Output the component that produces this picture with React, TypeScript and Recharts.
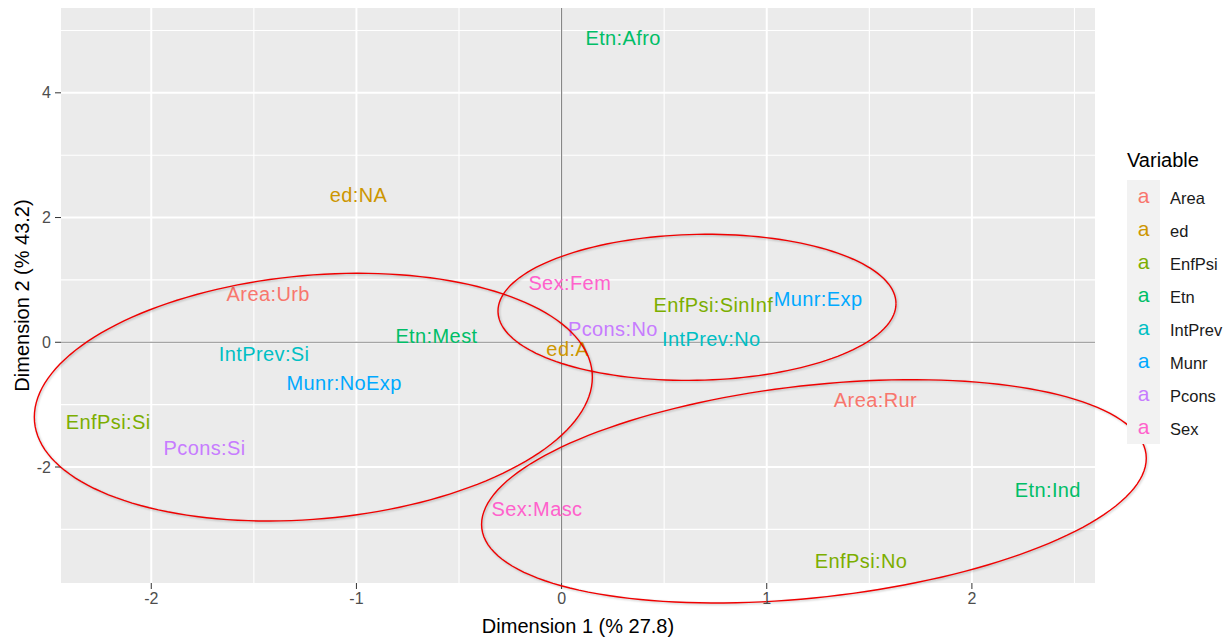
import React from 'react';
import { ScatterChart, Scatter, XAxis, YAxis, ReferenceLine, ReferenceArea, Legend } from 'recharts';

const FONT = '"Liberation Sans", Arial, sans-serif';

// variables and their ggplot hue colours
const variables = ['Area', 'ed', 'EnfPsi', 'Etn', 'IntPrev', 'Munr', 'Pcons', 'Sex'];
const variableColors = ['#F8766D', '#CD9600', '#7CAE00', '#00BE67', '#00BFC4', '#00A9FF', '#C77CFF', '#FF61CC'];

// category coordinates (Dimension 1, Dimension 2)
const categoryLabels = [
  'Area:Urb', 'Area:Rur', 'ed:NA', 'ed:A', 'EnfPsi:Si', 'EnfPsi:No', 'EnfPsi:SinInf',
  'Etn:Afro', 'Etn:Mest', 'Etn:Ind', 'IntPrev:Si', 'IntPrev:No', 'Munr:NoExp', 'Munr:Exp',
  'Pcons:Si', 'Pcons:No', 'Sex:Fem', 'Sex:Masc',
];
const dim1 = [-1.43, 1.53, -0.99, 0.03, -2.21, 1.46, 0.74, 0.30, -0.61, 2.37, -1.45, 0.73, -1.06, 1.25, -1.74, 0.25, 0.04, -0.12];
const dim2 = [0.77, -0.93, 2.36, -0.11, -1.28, -3.50, 0.59, 4.88, 0.10, -2.37, -0.19, 0.05, -0.66, 0.69, -1.70, 0.21, 0.95, -2.67];

// hand-drawn ellipses: centre, half-extents and tilt (in data units)
const ellipseCx = [-1.21, 0.66, 1.23];
const ellipseCy = [-0.88, 0.56, -2.39];
const ellipseRx = [1.36, 0.97, 1.62];
const ellipseRy = [1.96, 1.17, 1.71];
const ellipseSkew = [0.32, 0.06, 0.53];

const xTicks = [-2, -1, 0, 1, 2];
const xMinor = [-1.5, -0.5, 0.5, 1.5, 2.5];
const yTicks = [-2, 0, 2, 4];
const yMinor = [-3, -1, 1, 3, 5];
const X_DOMAIN: [number, number] = [-2.44, 2.6];
const Y_DOMAIN: [number, number] = [-3.86, 5.36];

const points = categoryLabels.map((label, i) => ({
  label,
  variable: label.split(':')[0],
  x: dim1[i],
  y: dim2[i],
}));

const ellipseOutline = (i: number) => {
  const pts = [];
  const steps = 160;
  for (let k = 0; k <= steps; k++) {
    const t = (k / steps) * Math.PI * 2;
    pts.push({
      x: ellipseCx[i] + ellipseRx[i] * Math.cos(t),
      y: ellipseCy[i] + ellipseRy[i] * Math.sin(t) + ellipseSkew[i] * Math.cos(t),
    });
  }
  return pts;
};

const makeLabelShape = (color: string) => (props: any) => (
  <text
    x={props.cx}
    y={props.cy}
    textAnchor="middle"
    dominantBaseline="central"
    fill={color}
    fontSize={20}
    fontFamily={FONT}
    letterSpacing={0.4}
  >
    {props.payload.label}
  </text>
);

const LegendContent = (props: any) => {
  const payload = props.payload || [];
  const colorOf = (name: string) => {
    const e = payload.find((p: any) => p.value === name);
    return e ? e.color : variableColors[variables.indexOf(name)];
  };
  return (
    <div style={{ fontFamily: FONT }}>
      <div style={{ fontSize: 20, color: '#000', lineHeight: '24px', marginBottom: 8 }}>Variable</div>
      {variables.map((v) => (
        <div key={v} style={{ display: 'flex', alignItems: 'center', height: 33 }}>
          <div
            style={{
              width: 33,
              height: 33,
              background: '#F2F2F2',
              color: colorOf(v),
              fontSize: 21,
              lineHeight: '32px',
              textAlign: 'center',
            }}
          >
            a
          </div>
          <div style={{ marginLeft: 10, fontSize: 16.5, color: '#1A1A1A', paddingTop: 3 }}>{v}</div>
        </div>
      ))}
    </div>
  );
};

export default function App() {
  return (
    <div style={{ position: 'absolute', left: 0, top: 0 }}>
      <style>{`.ellipse-outline, .ellipse-outline * { clip-path: none !important; }
.ellipse-outline path { filter: drop-shadow(1px 1.5px 1px rgba(0,0,0,0.25)); }`}</style>
      <ScatterChart width={1231} height={639} margin={{ top: 8, right: 136, bottom: 0, left: 0 }}>
        <XAxis
          type="number"
          dataKey="x"
          domain={X_DOMAIN}
          allowDataOverflow
          ticks={xTicks}
          height={56}
          axisLine={false}
          tickSize={6}
          tickMargin={4}
          tickLine={{ stroke: '#333333' }}
          tick={{ fill: '#4D4D4D', fontSize: 16, fontFamily: FONT }}
          label={{
            content: (p: any) => {
              const vb = p.viewBox;
              return (
                <text
                  x={vb.x + vb.width / 2}
                  y={vb.y + 43}
                  textAnchor="middle"
                  dominantBaseline="central"
                  fontSize={20}
                  fontFamily={FONT}
                  fill="#000"
                >
                  Dimension 1 (% 27.8)
                </text>
              );
            },
          }}
        />
        <YAxis
          type="number"
          dataKey="y"
          domain={Y_DOMAIN}
          allowDataOverflow
          ticks={yTicks}
          width={61}
          axisLine={false}
          tickSize={6}
          tickMargin={4}
          tickLine={{ stroke: '#333333' }}
          tick={{ fill: '#4D4D4D', fontSize: 16, fontFamily: FONT }}
          label={{
            content: (p: any) => {
              const vb = p.viewBox;
              const cx = vb.x + 22;
              const cy = vb.y + vb.height / 2;
              return (
                <text
                  x={cx}
                  y={cy}
                  transform={`rotate(-90 ${cx} ${cy})`}
                  textAnchor="middle"
                  dominantBaseline="central"
                  fontSize={20}
                  fontFamily={FONT}
                  fill="#000"
                >
                  Dimension 2 (% 43.2)
                </text>
              );
            },
          }}
        />
        <ReferenceArea
          x1={X_DOMAIN[0]}
          x2={X_DOMAIN[1]}
          y1={Y_DOMAIN[0]}
          y2={Y_DOMAIN[1]}
          fill="#EBEBEB"
          fillOpacity={1}
          stroke="none"
        />
        {xMinor.map((v) => (
          <ReferenceLine key={`xm${v}`} x={v} stroke="#FFFFFF" strokeWidth={1.1} />
        ))}
        {yMinor.map((v) => (
          <ReferenceLine key={`ym${v}`} y={v} stroke="#FFFFFF" strokeWidth={1.1} />
        ))}
        {xTicks.map((v) => (
          <ReferenceLine key={`x${v}`} x={v} stroke="#FFFFFF" strokeWidth={2} />
        ))}
        {yTicks.map((v) => (
          <ReferenceLine key={`y${v}`} y={v} stroke="#FFFFFF" strokeWidth={2} />
        ))}
        <ReferenceLine x={0} stroke="#878787" strokeWidth={1.2} />
        <ReferenceLine y={0} stroke="#878787" strokeWidth={1.2} />
        {variables.map((v, i) => (
          <Scatter
            key={v}
            name={v}
            data={points.filter((p) => p.variable === v)}
            fill={variableColors[i]}
            shape={makeLabelShape(variableColors[i])}
            isAnimationActive={false}
          />
        ))}
        {ellipseCx.map((_, i) => (
          <Scatter
            key={`ellipse${i}`}
            className="ellipse-outline"
            data={ellipseOutline(i)}
            line={{ stroke: '#F00000', strokeWidth: 1.4 }}
            lineType="joint"
            shape={() => <g />}
            legendType="none"
            isAnimationActive={false}
          />
        ))}
        <Legend
          layout="vertical"
          align="center"
          verticalAlign="middle"
          content={LegendContent}
          wrapperStyle={{ left: 1127, top: 148, width: 104 }}
        />
      </ScatterChart>
    </div>
  );
}
